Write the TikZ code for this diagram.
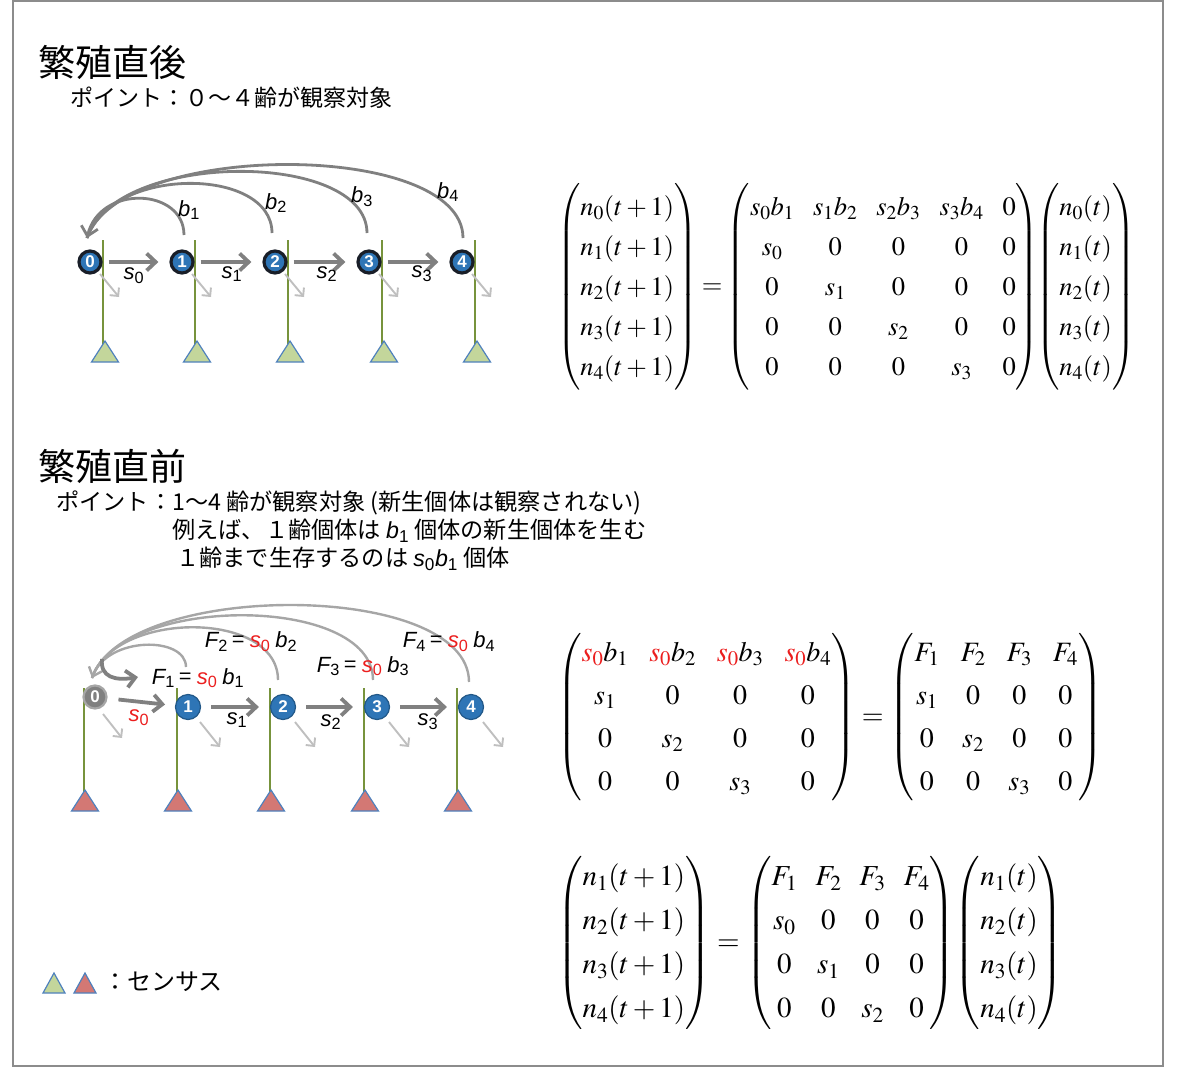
\documentclass[tikz,border=0pt]{standalone}
\usepackage{amsmath}
\usepackage{mathptmx}
\usepackage[no-math]{fontspec}
\setmainfont{Noto Sans CJK JP}
\newfontfamily\lsans{Liberation Sans}
\usetikzlibrary{arrows.meta}
\definecolor{nodeblue}{RGB}{46,117,182}
\definecolor{ringdark}{RGB}{25,30,40}
\definecolor{arrgray}{RGB}{128,128,128}
\definecolor{lightarr}{RGB}{191,191,191}
\definecolor{curvegray}{RGB}{166,166,166}
\definecolor{stemgreen}{RGB}{119,147,60}
\definecolor{trigreen}{RGB}{195,214,155}
\definecolor{trired}{RGB}{211,120,116}
\definecolor{triedge}{RGB}{79,129,189}
\definecolor{sred}{RGB}{235,30,30}
\definecolor{framegray}{RGB}{140,140,140}
\newcommand{\vl}[2]{{\lsans\itshape #1}{\lsans\textsubscript{#2}}}
\newcommand{\rvl}[2]{\textcolor{sred}{\vl{#1}{#2}}}
\begin{document}
\begin{tikzpicture}[x=1pt,y=-1pt,
  tnode/.style={circle, fill=nodeblue, draw=ringdark, line width=3.2pt, inner sep=0pt, minimum size=22pt, text=white, font=\lsans\bfseries\fontsize{17}{17}\selectfont},
  bnode/.style={circle, fill=nodeblue, draw=nodeblue!75!black, line width=1.2pt, inner sep=0pt, minimum size=25pt, text=white, font=\lsans\bfseries\fontsize{17}{17}\selectfont},
  gnode/.style={circle, fill=arrgray, draw=black!35, line width=2.2pt, inner sep=0pt, minimum size=23pt, text=white, font=\lsans\bfseries\fontsize{17}{17}\selectfont},
  sarrow/.style={draw=arrgray, line width=3.8pt, -{Straight Barb[length=9pt,width=17pt]}},
  larrow/.style={draw=lightarr, line width=1.9pt, -{Straight Barb[length=6pt,width=12pt]}},
  barc/.style={draw=arrgray, line width=2.8pt},
  farc/.style={draw=curvegray, line width=2.4pt},
  stem/.style={draw=stemgreen, line width=1.1pt},
  trig/.style={fill=trigreen, draw=triedge, line width=1.2pt},
  trir/.style={fill=trired, draw=triedge, line width=1.2pt},
  lab/.style={inner sep=0pt, font=\fontsize{22}{23}\selectfont},
  txt/.style={inner sep=0pt, anchor=west},
]
\useasboundingbox (0,0) rectangle (1177,1089);
\draw[framegray, line width=2pt] (13,1) rectangle (1163,1066);

% ---------- titles ----------
\node[txt, font=\fontsize{37}{40}\selectfont] (t1) at (38,62) {繁殖直後};
\node[txt, font=\fontsize{23}{25}\selectfont] (p1) at (70,98) {ポイント：０～４齢が観察対象};
\node[txt, font=\fontsize{37}{40}\selectfont] (t2) at (38,466) {繁殖直前};
\node[txt, font=\fontsize{23.2}{25}\selectfont] (p2a) at (56,503) {ポイント：1～4 齢が観察対象 (新生個体は観察されない)};
\node[txt, font=\fontsize{23.2}{25}\selectfont] (p2b) at (172,531) {例えば、１齢個体は \vl{b}{1} 個体の新生個体を生む};
\node[txt, font=\fontsize{23.2}{25}\selectfont] (p2c) at (176,559) {１齢まで生存するのは \vl{s}{0}\vl{b}{1} 個体};

% ---------- top diagram ----------
\foreach \i/\x in {0/90,1/182,2/275,3/369,4/462}{
  \coordinate (st\i) at (\x+13,240);
  \coordinate (sb\i) at (\x+13,345);
  \draw[stem] (st\i) -- (sb\i);
  \draw[trig] (\x+1.5,362) -- (\x+28.5,362) -- (\x+15,341) -- cycle;
}
\foreach \i/\x in {0/90,1/182,2/275,3/369,4/462}{
  \node[tnode] (n\i) at (\x,262) {\i};
  \draw[larrow] ([shift={(10,12)}]n\i.center) -- ([shift={(29,35)}]n\i.center);
}
\foreach \a/\b in {0/1,1/2,2/3,3/4}{
  \draw[sarrow, shorten <=6pt, shorten >=11pt] (n\a) -- (n\b);
}
\coordinate (tip0) at (87,238);
\coordinate (bs1) at (184,235);
\coordinate (bs2) at (272,233);
\coordinate (bs3) at (367,233);
\coordinate (bs4) at (463,238);
\draw[barc] (bs4) .. controls (463,140) and (120,140) .. (tip0);
\draw[barc] (bs3) .. controls (367,150) and (115,150) .. (tip0);
\draw[barc] (bs2) .. controls (272,166) and (110,166) .. (tip0);
\draw[barc, -{Straight Barb[length=9pt,width=17pt]}] (bs1) .. controls (184,188) and (100,184) .. (tip0);

\node[lab] (lb1) at (189,210) {\vl{b}{1}};
\node[lab] (lb2) at (276,203) {\vl{b}{2}};
\node[lab] (lb3) at (362,197) {\vl{b}{3}};
\node[lab] (lb4) at (448,192) {\vl{b}{4}};
\node[lab] (ls0) at (134,276) {\vl{s}{0}};
\node[lab] (ls1) at (232,274) {\vl{s}{1}};
\node[lab] (ls2) at (327,274) {\vl{s}{2}};
\node[lab] (ls3) at (422,274) {\vl{s}{3}};

% ---------- bottom diagram ----------
\foreach \i/\x in {0/84,1/177,2/270,3/364,4/457}{
  \coordinate (bst\i) at (\x,688);
  \coordinate (bsb\i) at (\x,795);
  \draw[stem] (bst\i) -- (bsb\i);
  \draw[trir] (\x-12.5,811) -- (\x+14.5,811) -- (\x+1,790) -- cycle;
}
\node[gnode] (m0) at (95,697) {0};
\foreach \i/\x in {1/188,2/283,3/377,4/471}{
  \node[bnode] (m\i) at (\x,707) {\i};
  \draw[larrow] ([shift={(12,15)}]m\i.center) -- ([shift={(32,40)}]m\i.center);
}
\draw[larrow] ([shift={(8,17)}]m0.center) -- ([shift={(27,41)}]m0.center);
\draw[sarrow, shorten <=11pt, shorten >=10pt] (m0) -- (m1);
\foreach \a/\b in {1/2,2/3,3/4}{
  \draw[sarrow, shorten <=10pt, shorten >=11pt] (m\a) -- (m\b);
}
\coordinate (ftip) at (92,678);
\coordinate (fs1) at (186,667);
\coordinate (fs2) at (278,680);
\coordinate (fs3) at (373,680);
\coordinate (fs4) at (469,682);
\draw[farc] (fs4) .. controls (469,580) and (125,580) .. (ftip);
\draw[farc] (fs3) .. controls (373,594) and (120,594) .. (ftip);
\draw[farc] (fs2) .. controls (278,610) and (115,610) .. (ftip);
\draw[farc, -{Straight Barb[length=8pt,width=14pt]}] (fs1) .. controls (186,636) and (108,636) .. (ftip);
\coordinate (hk0) at (102,659);
\coordinate (hk1) at (138,677);
\draw[sarrow] (hk0) .. controls (100,677) and (115,681) .. (hk1);

\node[lab] (f1) at (198,678) {\vl{F}{1} = \rvl{s}{0} \vl{b}{1}};
\node[lab] (f2) at (251,642) {\vl{F}{2} = \rvl{s}{0} \vl{b}{2}};
\node[lab] (f3) at (363,666) {\vl{F}{3} = \rvl{s}{0} \vl{b}{3}};
\node[lab] (f4) at (449,642) {\vl{F}{4} = \rvl{s}{0} \vl{b}{4}};
\node[lab] (ms0) at (139,718) {\rvl{s}{0}};
\node[lab] (ms1) at (237,720) {\vl{s}{1}};
\node[lab] (ms2) at (331,722) {\vl{s}{2}};
\node[lab] (ms3) at (428,722) {\vl{s}{3}};

% ---------- legend ----------
\draw[trig] (43,993) -- (65,993) -- (54,973) -- cycle;
\draw[trir] (74,993) -- (96,993) -- (85,973) -- cycle;
\node[txt, font=\fontsize{24}{25}\selectfont] (leg) at (103,982) {：センサス};

% ---------- equations ----------
\node[anchor=west, inner sep=0pt, font=\fontsize{26.5}{40}\selectfont] (eq1) at (557,287) {%
$\thickmuskip=3mu\setlength{\arraycolsep}{9.5pt}%
\begin{pmatrix} n_0(t+1)\\ n_1(t+1)\\ n_2(t+1)\\ n_3(t+1)\\ n_4(t+1)\end{pmatrix}
=
\begin{pmatrix} s_0b_1 & s_1b_2 & s_2b_3 & s_3b_4 & 0\\ s_0&0&0&0&0\\ 0&s_1&0&0&0\\ 0&0&s_2&0&0\\ 0&0&0&s_3&0\end{pmatrix}\!\!
\begin{pmatrix} n_0(t)\\ n_1(t)\\ n_2(t)\\ n_3(t)\\ n_4(t)\end{pmatrix}$};

\node[anchor=west, inner sep=0pt, font=\fontsize{28}{43}\selectfont] (eq2) at (557,717) {%
$\setlength{\arraycolsep}{10.5pt}%
\begin{pmatrix} \textcolor{sred}{s_0}b_1 & \textcolor{sred}{s_0}b_2 & \textcolor{sred}{s_0}b_3 & \textcolor{sred}{s_0}b_4\\ s_1&0&0&0\\ 0&s_2&0&0\\ 0&0&s_3&0\end{pmatrix}
=
\begin{pmatrix} F_1 & F_2 & F_3 & F_4\\ s_1&0&0&0\\ 0&s_2&0&0\\ 0&0&s_3&0\end{pmatrix}$};

\node[anchor=west, inner sep=0pt, font=\fontsize{29}{44}\selectfont] (eq3) at (557,943) {%
$\setlength{\arraycolsep}{9pt}%
\begin{pmatrix} n_1(t+1)\\ n_2(t+1)\\ n_3(t+1)\\ n_4(t+1)\end{pmatrix}
=
\begin{pmatrix} F_1 & F_2 & F_3 & F_4\\ s_0&0&0&0\\ 0&s_1&0&0\\ 0&0&s_2&0\end{pmatrix}\!
\begin{pmatrix} n_1(t)\\ n_2(t)\\ n_3(t)\\ n_4(t)\end{pmatrix}$};
\end{tikzpicture}
\end{document}
